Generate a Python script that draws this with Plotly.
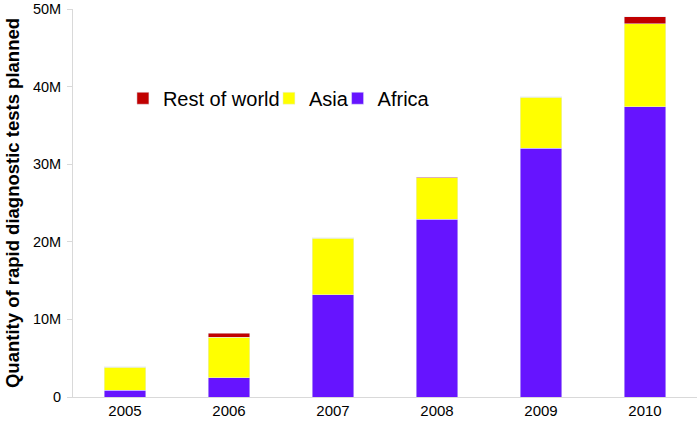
import plotly.graph_objects as go

years = ["2005", "2006", "2007", "2008", "2009", "2010"]
africa = [0.9, 2.5, 13.15, 22.9, 32.05, 37.4]
asia = [2.95, 5.2, 7.3, 5.38, 6.6, 10.7]
rest_of_world = [0.05, 0.5, 0.05, 0.05, 0.05, 0.9]
tick_vals = [0, 10, 20, 30, 40, 50]
tick_text = ["0", "10M", "20M", "30M", "40M", "50M"]

fig = go.Figure()
fig.add_trace(go.Bar(x=years, y=africa, name="Africa", marker_color="#6614FF",
                     legend="legend3"))
fig.add_trace(go.Bar(x=years, y=asia, name="Asia", marker_color="#FFFF00",
                     legend="legend2"))
fig.add_trace(go.Bar(x=years, y=rest_of_world, name="Rest of world",
                     marker_color="#C00000", legend="legend"))

leg_style = dict(orientation="h", y=0.77, xanchor="left", yanchor="middle",
                 font=dict(size=20), bgcolor="rgba(0,0,0,0)", itemwidth=30)

fig.update_layout(
    barmode="stack",
    bargap=0.6,
    width=698, height=424,
    margin=dict(l=73, r=1, t=9, b=27, autoexpand=False),
    plot_bgcolor="white", paper_bgcolor="white",
    font=dict(family="Liberation Sans, Arial, sans-serif", color="#000"),
    showlegend=True,
    legend=dict(x=0.080, **leg_style),
    legend2=dict(x=0.314, **leg_style),
    legend3=dict(x=0.424, **leg_style),
    xaxis=dict(showline=True, linecolor="#D9D9D9", linewidth=1, ticks="",
               tickfont=dict(size=15), showgrid=False, automargin=False),
    yaxis=dict(range=[0, 50], tickvals=tick_vals, ticktext=tick_text,
               showline=True, linecolor="#D9D9D9", linewidth=1,
               ticks="outside", ticklen=5, tickcolor="#D9D9D9",
               ticklabelstandoff=3, ticklabeloverflow="allow", automargin=False,
               tickfont=dict(size=14.5), showgrid=False, zeroline=False,
               title=dict(text="<b>Quantity of rapid diagnostic tests planned</b>",
                          font=dict(size=18.5), standoff=8)),
)

fig.write_html("out.html",
               config={"displayModeBar": False},
               post_script="document.body.style.margin='0px';")
